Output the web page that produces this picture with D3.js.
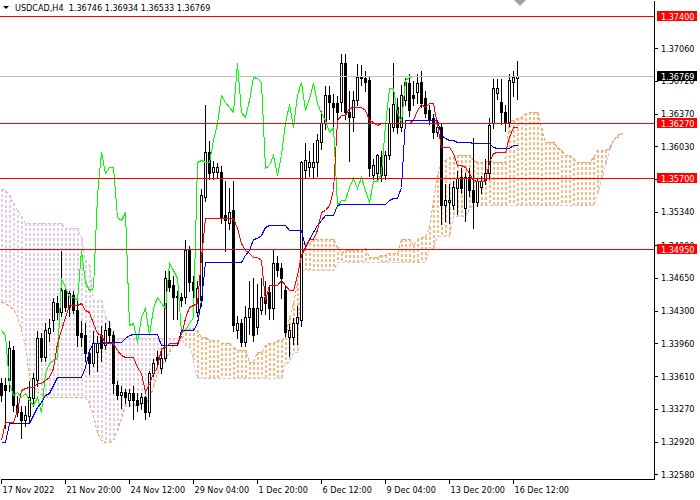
<!DOCTYPE html>
<html>
<head>
<meta charset="utf-8">
<script src="https://cdn.jsdelivr.net/npm/d3@7"></script>
<style>
  body { margin: 0; background: #fff; }
  svg text { font-family: "DejaVu Sans Condensed", "DejaVu Sans", sans-serif; font-size: 9px; }
</style>
</head>
<body>
<div id="chart-container"></div>
<script>
// USDCAD H4 candles (bar 0 = 17 Nov 04:00)
const opens = [
  1.3354,1.3352,1.3357,1.3389,1.3331,1.3324,1.3315,1.3319,1.3338,1.3357,
  1.3401,1.3381,1.3407,1.3420,1.3438,1.3429,1.3452,1.3434,1.3447,1.3431,
  1.3407,1.3405,1.3386,1.3375,1.3387,1.3405,1.3394,1.3412,1.3405,1.3352,
  1.3341,1.3345,1.3336,1.3344,1.3336,1.3333,1.3339,1.3324,1.3365,1.3381,
  1.3370,1.3380,1.3462,1.3457,1.3446,1.3445,1.3444,1.3494,1.3460,1.3429,
  1.3441,1.3550,1.3597,1.3576,1.3576,1.3576,1.3531,1.3522,1.3536,1.3410,
  1.3417,1.3397,1.3424,1.3433,1.3413,1.3431,1.3445,1.3450,1.3433,1.3480,
  1.3475,1.3452,1.3402,1.3402,1.3417,1.3420,1.3578,1.3581,1.3581,1.3586,
  1.3608,1.3628,1.3657,1.3649,1.3649,1.3650,1.3691,1.3639,1.3634,1.3652,
  1.3677,1.3675,1.3673,1.3573,1.3575,1.3592,1.3573,1.3594,1.3623,1.3644,
  1.3623,1.3652,1.3670,1.3657,1.3660,1.3671,1.3654,1.3641,1.3633,1.3618,
  1.3623,1.3541,1.3544,1.3541,1.3559,1.3571,1.3538,1.3571,1.3557,1.3544,
  1.3560,1.3568,1.3575,1.3628,1.3659,1.3650,1.3639,1.3629,1.3671,1.36746
];
const highs = [
  1.3360,1.3360,1.3399,1.3394,1.3341,1.3331,1.3331,1.3357,1.3366,1.3410,
  1.3408,1.3418,1.3422,1.3444,1.3447,1.3494,1.3457,1.3452,1.3452,1.3441,
  1.3420,1.3418,1.3389,1.3410,1.3405,1.3415,1.3418,1.3420,1.3410,1.3357,
  1.3352,1.3349,1.3349,1.3352,1.3345,1.3345,1.3341,1.3368,1.3380,1.3389,
  1.3389,1.3473,1.3473,1.3468,1.3452,1.3450,1.3505,1.3499,1.3468,1.3462,
  1.3559,1.3647,1.3610,1.3589,1.3587,1.3583,1.3568,1.3560,1.3568,1.3426,
  1.3422,1.3436,1.3462,1.3466,1.3459,1.3466,1.3462,1.3457,1.3496,1.3489,
  1.3481,1.3457,1.3417,1.3424,1.3436,1.3589,1.3607,1.3599,1.3607,1.3617,
  1.3641,1.3667,1.3667,1.3659,1.3657,1.3701,1.3701,1.3662,1.3662,1.3691,
  1.3690,1.3683,1.3678,1.3591,1.3596,1.3599,1.3599,1.3644,1.3692,1.3655,
  1.3668,1.3676,1.3680,1.3673,1.3680,1.3683,1.3662,1.3647,1.3638,1.3631,
  1.3629,1.3564,1.3564,1.3568,1.3578,1.3581,1.3576,1.3581,1.3613,1.3570,
  1.3573,1.3591,1.3634,1.3675,1.3675,1.3675,1.3647,1.3680,1.3683,1.36934
];
const lows = [
  1.3336,1.3308,1.3347,1.3326,1.3320,1.3297,1.3310,1.3315,1.3331,1.3352,
  1.3378,1.3378,1.3399,1.3410,1.3422,1.3426,1.3431,1.3426,1.3429,1.3394,
  1.3394,1.3378,1.3365,1.3373,1.3368,1.3378,1.3391,1.3399,1.3345,1.3338,
  1.3329,1.3334,1.3331,1.3317,1.3326,1.3328,1.3317,1.3320,1.3362,1.3373,
  1.3366,1.3378,1.3452,1.3422,1.3422,1.3436,1.3439,1.3452,1.3441,1.3426,
  1.3436,1.3547,1.3570,1.3570,1.3571,1.3523,1.3494,1.3517,1.3410,1.3402,
  1.3394,1.3394,1.3407,1.3399,1.3407,1.3428,1.3428,1.3422,1.3422,1.3468,
  1.3445,1.3405,1.3384,1.3396,1.3396,1.3415,1.3571,1.3573,1.3571,1.3573,
  1.3601,1.3622,1.3633,1.3623,1.3631,1.3641,1.3633,1.3589,1.3620,1.3647,
  1.3668,1.3662,1.3573,1.3570,1.3570,1.3568,1.3570,1.3591,1.3620,1.3618,
  1.3620,1.3647,1.3636,1.3647,1.3650,1.3645,1.3635,1.3628,1.3613,1.3615,
  1.3522,1.3526,1.3523,1.3538,1.3533,1.3555,1.3526,1.3552,1.3518,1.3541,
  1.3555,1.3564,1.3570,1.3623,1.3654,1.3628,1.3620,1.3625,1.3657,1.36533
];
const closes = [
  1.3341,1.3347,1.3391,1.3331,1.3324,1.3315,1.3320,1.3339,1.3359,1.3401,
  1.3381,1.3410,1.3412,1.3439,1.3429,1.3452,1.3434,1.3449,1.3431,1.3405,
  1.3402,1.3386,1.3375,1.3396,1.3396,1.3391,1.3410,1.3405,1.3354,1.3341,
  1.3345,1.3339,1.3344,1.3336,1.3331,1.3339,1.3324,1.3365,1.3375,1.3378,
  1.3380,1.3465,1.3455,1.3445,1.3444,1.3441,1.3494,1.3460,1.3452,1.3454,
  1.3552,1.3597,1.3575,1.3581,1.3581,1.3529,1.3526,1.3534,1.3415,1.3417,
  1.3397,1.3424,1.3433,1.3405,1.3433,1.3445,1.3438,1.3433,1.3480,1.3473,
  1.3465,1.3408,1.3410,1.3417,1.3424,1.3586,1.3589,1.3586,1.3586,1.3610,
  1.3628,1.3657,1.3650,1.3644,1.3639,1.3691,1.3639,1.3634,1.3652,1.3676,
  1.3675,1.3671,1.3580,1.3583,1.3594,1.3573,1.3594,1.3628,1.3647,1.3623,
  1.3657,1.3671,1.3641,1.3654,1.3670,1.3649,1.3638,1.3631,1.3618,1.3623,
  1.3541,1.3547,1.3547,1.3560,1.3570,1.3559,1.3571,1.3557,1.3544,1.3566,
  1.3566,1.3575,1.3625,1.3664,1.3664,1.3639,1.3629,1.3673,1.3676,1.36769
];

// Ichimoku lines as drawn on the chart
const tenkan = [
  1.3294,1.3313,1.3313,1.3313,1.3326,1.3347,1.3349,1.3350,1.3350,1.3354,
  1.3354,1.3357,1.3360,1.3370,1.3396,1.3410,1.3424,1.3436,1.3436,1.3436,
  1.3438,1.3431,1.3429,1.3417,1.3407,1.3405,1.3396,1.3396,1.3396,1.3389,
  1.3384,1.3381,1.3381,1.3381,1.3371,1.3365,1.3345,1.3354,1.3365,1.3371,
  1.3391,1.3392,1.3396,1.3396,1.3396,1.3405,1.3422,1.3434,1.3436,1.3438,
  1.3487,1.3528,1.3528,1.3528,1.3528,1.3528,1.3528,1.3528,1.3528,1.3517,
  1.3501,1.3494,1.3491,1.3487,1.3487,1.3483,1.3441,1.3457,1.3457,1.3457,
  1.3462,1.3457,1.3452,1.3452,1.3468,1.3489,1.3497,1.3505,1.3505,1.3515,
  1.3534,1.3536,1.3541,1.3557,1.3631,1.3636,1.3636,1.3643,1.3644,1.3644,
  1.3644,1.3641,1.3631,1.3629,1.3625,1.3628,1.3628,1.3628,1.3628,1.3628,
  1.3628,1.3628,1.3628,1.3631,1.3641,1.3647,1.3644,1.3649,1.3649,1.3625,
  1.3602,1.3602,1.3602,1.3596,1.3583,1.3583,1.3581,1.3575,1.3568,1.3566,
  1.3566,1.3566,1.3586,1.3596,1.3597,1.3597,1.3597,1.3613,1.3623,1.3623
];
const kijun = [
  1.3292,1.3292,1.3312,1.3312,1.3312,1.3312,1.3312,1.3312,1.3320,1.3329,
  1.3334,1.3341,1.3344,1.3352,1.3360,1.3360,1.3360,1.3360,1.3360,1.3360,
  1.3360,1.3371,1.3389,1.3396,1.3396,1.3396,1.3397,1.3397,1.3397,1.3397,
  1.3397,1.3401,1.3405,1.3406,1.3406,1.3406,1.3406,1.3406,1.3406,1.3406,
  1.3394,1.3394,1.3394,1.3394,1.3394,1.3410,1.3410,1.3410,1.3410,1.3417,
  1.3441,1.3481,1.3481,1.3481,1.3481,1.3481,1.3481,1.3481,1.3481,1.3481,
  1.3481,1.3489,1.3494,1.3505,1.3507,1.3510,1.3518,1.3520,1.3520,1.3520,
  1.3520,1.3520,1.3515,1.3515,1.3515,1.3515,1.3497,1.3505,1.3513,1.3520,
  1.3526,1.3531,1.3531,1.3531,1.3541,1.3542,1.3542,1.3542,1.3542,1.3542,
  1.3542,1.3542,1.3542,1.3542,1.3542,1.3542,1.3542,1.3547,1.3549,1.3549,
  1.3560,1.3631,1.3631,1.3631,1.3631,1.3631,1.3631,1.3631,1.3631,1.3631,
  1.3615,1.3612,1.3610,1.3610,1.3608,1.3608,1.3608,1.3608,1.3606,1.3606,
  1.3606,1.3606,1.3606,1.3602,1.3601,1.3601,1.3601,1.3601,1.3604,1.3604
];
// senkou spans run 26 bars past the last candle
const spanA = [
  1.3439,1.3438,1.3435,1.3432,1.3425,1.3410,1.3394,1.3360,1.3352,1.3345,
  1.3343,1.3340,1.3339,1.3339,1.3339,1.3339,1.3339,1.3339,1.3339,1.3339,
  1.3339,1.3339,1.3333,1.3320,1.3301,1.3294,1.3292,1.3292,1.3294,1.3305,
  1.3317,1.3331,1.3331,1.3331,1.3331,1.3333,1.3333,1.3338,1.3350,1.3365,
  1.3371,1.3381,1.3387,1.3394,1.3394,1.3400,1.3407,1.3412,1.3412,1.3410,
  1.3402,1.3402,1.3399,1.3399,1.3399,1.3396,1.3396,1.3396,1.3392,1.3389,
  1.3389,1.3389,1.3376,1.3376,1.3387,1.3387,1.3394,1.3396,1.3396,1.3399,
  1.3399,1.3402,1.3424,1.3438,1.3459,1.3501,1.3501,1.3501,1.3505,1.3505,
  1.3505,1.3505,1.3505,1.3505,1.3497,1.3491,1.3494,1.3494,1.3494,1.3494,
  1.3494,1.3496,1.3487,1.3487,1.3487,1.3489,1.3489,1.3491,1.3491,1.3491,
  1.3505,1.3505,1.3505,1.3499,1.3505,1.3508,1.3508,1.3518,1.3547,1.3573,
  1.3586,1.3589,1.3592,1.3592,1.3594,1.3594,1.3594,1.3594,1.3589,1.3587,
  1.3586,1.3586,1.3589,1.3587,1.3587,1.3587,1.3587,1.3631,1.3631,1.3633,
  1.3634,1.3638,1.3639,1.3639,1.3639,1.3622,1.3607,1.3607,1.3607,1.3602,
  1.3599,1.3594,1.3594,1.3591,1.3587,1.3587,1.3587,1.3587,1.3592,1.3599,
  1.3599,1.3599,1.3601,1.3610,1.3615,1.3617
];
const spanB = [
  1.3558,1.3557,1.3552,1.3543,1.3536,1.3530,1.3522,1.3522,1.3522,1.3522,
  1.3522,1.3522,1.3522,1.3522,1.3522,1.3522,1.3517,1.3517,1.3517,1.3517,
  1.3507,1.3483,1.3478,1.3441,1.3441,1.3441,1.3424,1.3417,1.3401,1.3401,
  1.3401,1.3401,1.3401,1.3401,1.3401,1.3401,1.3401,1.3401,1.3401,1.3401,
  1.3401,1.3401,1.3401,1.3401,1.3401,1.3401,1.3394,1.3394,1.3378,1.3359,
  1.3359,1.3359,1.3359,1.3359,1.3359,1.3359,1.3359,1.3359,1.3359,1.3359,
  1.3359,1.3359,1.3359,1.3359,1.3359,1.3359,1.3359,1.3359,1.3359,1.3359,
  1.3359,1.3375,1.3376,1.3387,1.3387,1.3473,1.3473,1.3473,1.3473,1.3473,
  1.3473,1.3473,1.3473,1.3473,1.3481,1.3481,1.3481,1.3481,1.3481,1.3481,
  1.3481,1.3481,1.3481,1.3481,1.3481,1.3481,1.3481,1.3481,1.3481,1.3481,
  1.3481,1.3481,1.3481,1.3481,1.3481,1.3481,1.3481,1.3496,1.3496,1.3509,
  1.3509,1.3509,1.3509,1.3530,1.3530,1.3530,1.3530,1.3538,1.3541,1.3541,
  1.3541,1.3541,1.3541,1.3541,1.3541,1.3541,1.3541,1.3541,1.3541,1.3541,
  1.3541,1.3541,1.3541,1.3541,1.3541,1.3541,1.3541,1.3541,1.3541,1.3541,
  1.3541,1.3541,1.3541,1.3541,1.3541,1.3541,1.3541,1.3541,1.3541,1.3552,
  1.3568,1.3583,1.3599,1.3610,1.3613,1.3615
];
const chikouShift = 26;

// axes
const priceTicks = [1.37060, 1.36720, 1.36370, 1.36030, 1.35690, 1.35340, 1.34990,
  1.34650, 1.34300, 1.33960, 1.33610, 1.33270, 1.32920, 1.32580];
const timeBars = [0, 16, 32, 48, 64, 80, 96, 112, 128];
const timeLabels = ["17 Nov 2022", "21 Nov 20:00", "24 Nov 12:00", "29 Nov 04:00",
  "1 Dec 20:00", "6 Dec 12:00", "9 Dec 04:00", "13 Dec 20:00", "16 Dec 12:00"];

// horizontal levels and the bid line
const levels = [1.37400, 1.36270, 1.35700, 1.34950];
const bid = 1.36769;
const title = "USDCAD,H4  1.36746 1.36934 1.36533 1.36769";

const containerWidth = 700;
const containerHeight = 500;
const plotRight = 654;
const plotBottom = 479;

const svg = d3.select("#chart-container")
  .append("svg")
  .attr("width", containerWidth)
  .attr("height", containerHeight);

// 4px per bar, bar 0 sits at x=1
const x = d3.scaleLinear().domain([-0.25, 163.25]).range([0, plotRight]);
const y = d3.scaleLinear().domain([1.325315, 1.375682]).range([plotBottom, 0]);
const px = i => Math.round(x(i)) + 0.5;
const py = v => Math.round(y(v)) + 0.5;

const chart = svg.append("g").attr("shape-rendering", "crispEdges");

// kumo hatching, one dotted column per bar
const cloud = spanA.map((a, i) => ({ i: i, a: a, b: spanB[i] }));
chart.append("g").attr("shape-rendering", "auto").selectAll("line")
  .data(cloud)
  .enter()
  .append("line")
  .attr("x1", d => Math.round(x(d.i)) + 1)
  .attr("x2", d => Math.round(x(d.i)) + 1)
  .attr("y1", d => Math.round(y(Math.max(d.a, d.b))))
  .attr("y2", d => Math.round(y(Math.min(d.a, d.b))))
  .attr("stroke", d => d.a >= d.b ? "#f4a460" : "#d8bfd8")
  .attr("stroke-width", 1.5)
  .attr("stroke-dasharray", "3,2");

const line = d3.line()
  .x((d, i) => px(i))
  .y(d => py(d));

chart.append("path").attr("d", line(spanB))
  .attr("fill", "none").attr("stroke", "#d8bfd8").attr("stroke-dasharray", "3,2");
chart.append("path").attr("d", line(spanA))
  .attr("fill", "none").attr("stroke", "#f4a460").attr("stroke-dasharray", "3,2");

// candles
const bars = opens.map((o, i) => ({ i: i, o: o, h: highs[i], l: lows[i], c: closes[i] }));
const candles = chart.append("g");
candles.selectAll("line")
  .data(bars)
  .enter()
  .append("line")
  .attr("x1", d => px(d.i))
  .attr("x2", d => px(d.i))
  .attr("y1", d => py(d.h))
  .attr("y2", d => py(d.l) + 1)
  .attr("stroke", "#000");
candles.selectAll("rect")
  .data(bars)
  .enter()
  .append("rect")
  .attr("x", d => px(d.i) - 1)
  .attr("width", 2)
  .attr("y", d => py(Math.max(d.o, d.c)))
  .attr("height", d => Math.max(0, py(Math.min(d.o, d.c)) - py(Math.max(d.o, d.c))))
  .attr("fill", d => d.c >= d.o ? "#fff" : "#000")
  .attr("stroke", "#000");

// tenkan, kijun, chikou
chart.append("path").attr("d", line(closes.slice(chikouShift)))
  .attr("fill", "none").attr("stroke", "#00ff00");
chart.append("path").attr("d", line(kijun))
  .attr("fill", "none").attr("stroke", "#0000ff");
chart.append("path").attr("d", line(tenkan))
  .attr("fill", "none").attr("stroke", "#ff0000");

// level lines
chart.append("line")
  .attr("x1", 0).attr("x2", plotRight)
  .attr("y1", py(bid)).attr("y2", py(bid))
  .attr("stroke", "#c0c0c0");
chart.selectAll(".level")
  .data(levels)
  .enter()
  .append("line")
  .attr("class", "level")
  .attr("x1", 0).attr("x2", plotRight)
  .attr("y1", d => py(d)).attr("y2", d => py(d))
  .attr("stroke", "#ff0000");

// price axis
const yAxis = d3.axisRight(y)
  .tickValues(priceTicks)
  .tickSize(4)
  .tickSizeOuter(0)
  .tickPadding(3)
  .tickFormat(d3.format(".5f"));
const gy = svg.append("g")
  .attr("transform", `translate(${plotRight},0)`)
  .attr("shape-rendering", "crispEdges")
  .call(yAxis);
gy.selectAll("text").attr("fill", "#000");

// time axis
const xAxis = d3.axisBottom(x)
  .tickValues(timeBars)
  .tickSize(5)
  .tickSizeOuter(0)
  .tickPadding(3)
  .tickFormat((d, i) => timeLabels[i]);
const gx = svg.append("g")
  .attr("transform", `translate(0,${plotBottom})`)
  .attr("shape-rendering", "crispEdges")
  .call(xAxis);
gx.selectAll("text").attr("text-anchor", "start").attr("x", 1).attr("fill", "#000");

// price tags on the axis
const tags = levels.map(v => ({ v: v, fill: "#ff0000" })).concat([{ v: bid, fill: "#000" }]);
const tag = svg.selectAll(".tag")
  .data(tags)
  .enter()
  .append("g")
  .attr("class", "tag");
tag.append("rect")
  .attr("x", plotRight + 3)
  .attr("y", d => Math.round(y(d.v)) - 5)
  .attr("width", 40)
  .attr("height", 10)
  .attr("fill", d => d.fill);
tag.append("text")
  .attr("x", plotRight + 7)
  .attr("y", d => Math.round(y(d.v)) + 3.5)
  .attr("fill", "#fff")
  .text(d => d3.format(".5f")(d.v));

// title and chart shift marker
svg.append("path").attr("d", "M3,6L9,6L6,9Z").attr("fill", "#000");
svg.append("text")
  .attr("x", 15)
  .attr("y", 11)
  .attr("fill", "#000")
  .attr("xml:space", "preserve")
  .style("white-space", "pre")
  .text(title);
svg.append("path").attr("d", "M514,0L526,0L520,6Z").attr("fill", "#a0a0a0");
</script>
</body>
</html>
